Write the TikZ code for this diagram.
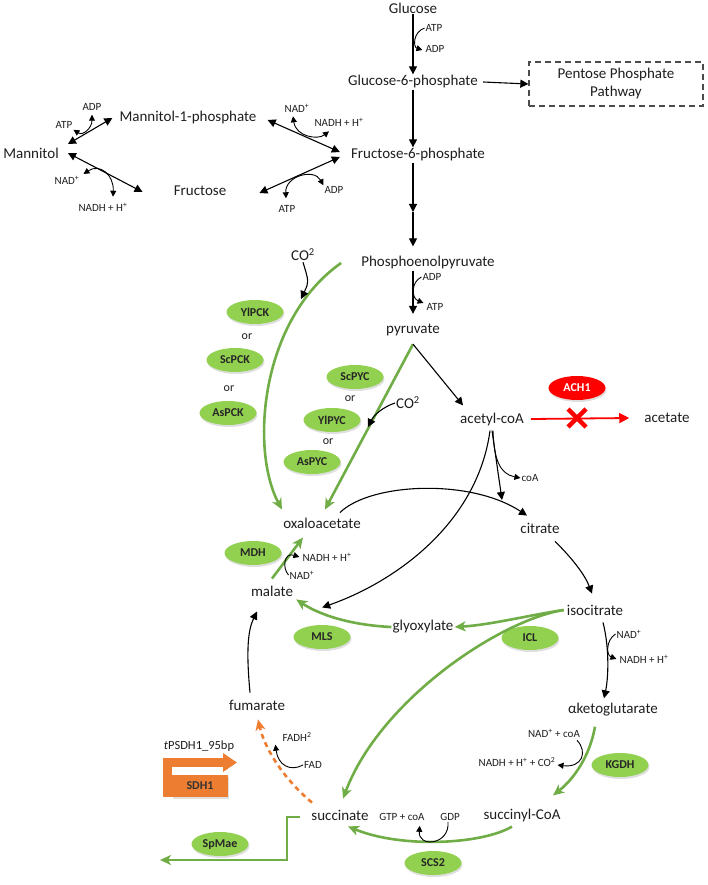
\documentclass[tikz,border=0pt]{standalone}
\usepackage{fontspec}
\setmainfont{Carlito}
\usepackage{tikz}
\usetikzlibrary{shapes.geometric, arrows.meta, shadows}
\definecolor{enzgreen}{RGB}{146,208,80}
\definecolor{pathgreen}{RGB}{112,173,71}
\definecolor{sdhorange}{RGB}{237,125,49}
\definecolor{metabgray}{RGB}{30,30,30}
\tikzstyle{metab} = [font=\fontsize{15}{17}\selectfont, text=metabgray, inner sep=1pt]
\tikzstyle{cof} = [font=\fontsize{11}{13}\selectfont, text=metabgray, inner sep=1pt]
\tikzstyle{orlabel} = [font=\fontsize{12}{14}\selectfont, text=metabgray, inner sep=1pt]
\tikzstyle{enzyme} = [ellipse, fill=enzgreen, minimum width=57pt, minimum height=24pt, inner sep=0pt, font=\bfseries\fontsize{12}{14}\selectfont, text=black!85, drop shadow={opacity=0.25, shadow xshift=1pt, shadow yshift=-2pt}]
\tikzstyle{arrow} = [line width=1.1pt, -{Triangle[length=8pt,width=8pt]}]
\tikzstyle{biarrow} = [line width=1.1pt, {Triangle[length=8pt,width=8pt]}-{Triangle[length=8pt,width=8pt]}]
\tikzstyle{cofarrow} = [line width=0.9pt, -{Triangle[length=6pt,width=6pt]}]
\tikzstyle{bicofarrow} = [line width=0.9pt, {Triangle[length=6pt,width=6pt]}-{Triangle[length=6pt,width=6pt]}]
\tikzstyle{greenarrow} = [pathgreen, line width=2.6pt, -{Stealth[length=11pt,width=10pt,inset=3pt]}]
\newcommand{\upplus}{\textsuperscript{+}}

\begin{document}
\begin{tikzpicture}[x=1pt, y=-1pt]
	\useasboundingbox (0,0) rectangle (708,885);
	\coordinate (glucose) at (413,8);
	\coordinate (g6p) at (413,82);
	\coordinate (ppp) at (616,84);
	\coordinate (f6p) at (418,155);
	\coordinate (mannitol) at (31,153);
	\coordinate (m1p) at (188,118);
	\coordinate (fructose) at (200,191);
	\coordinate (pep) at (428,263);
	\coordinate (pyruvate) at (413,330);
	\coordinate (acetylcoa) at (492,419);
	\coordinate (acetate) at (667,418);
	\coordinate (oaa) at (322,523);
	\coordinate (citrate) at (540,528);
	\coordinate (malate) at (272,591);
	\coordinate (glyoxylate) at (423,627);
	\coordinate (isocitrate) at (595,610);
	\coordinate (akg) at (613,710);
	\coordinate (succinylcoa) at (522,815);
	\coordinate (succinate) at (340,815);
	\coordinate (fumarate) at (257,705);
	% Metabolites
	\begin{scope}[every node/.style={metab}]
	\node[name=glucose] at (glucose) {Glucose};
	\node[name=g6p] at (g6p) {Glucose-6-phosphate};
	\node[name=f6p] at (f6p) {Fructose-6-phosphate};
	\node[name=mannitol] at (mannitol) {Mannitol};
	\node[name=m1p] at (m1p) {Mannitol-1-phosphate};
	\node[name=fructose] at (fructose) {Fructose};
	\node[name=pep] at (pep) {Phosphoenolpyruvate};
	\node[name=pyruvate] at (pyruvate) {pyruvate};
	\node[name=acetylcoa] at (acetylcoa) {acetyl-coA};
	\node[name=acetate] at (acetate) {acetate};
	\node[name=oaa] at (oaa) {oxaloacetate};
	\node[name=citrate] at (citrate) {citrate};
	\node[name=malate] at (malate) {malate};
	\node[name=glyoxylate] at (glyoxylate) {glyoxylate};
	\node[name=isocitrate] at (isocitrate) {isocitrate};
	\node[name=akg] at (akg) {αketoglutarate};
	\node[name=succinylcoa] at (succinylcoa) {succinyl-CoA};
	\node[name=succinate] at (succinate) {succinate};
	\node[name=fumarate] at (fumarate) {fumarate};
	\node[name=co2a] at (303,255) {CO\textsuperscript{2}};
	\node[name=co2b] at (408,403) {CO\textsuperscript{2}};
	\end{scope}
	% Pentose phosphate pathway
	\node[draw=black!70, dash pattern=on 6pt off 4pt, line width=1.3pt, minimum width=174pt, minimum height=44pt, align=center, font=\fontsize{15}{18}\selectfont, text=metabgray] (ppp) at (ppp) {Pentose Phosphate\\Pathway};
	% Cofactors
	\begin{scope}[every node/.style={cof}]
	\node (atp1) at (434,28) {ATP};
	\node (adp1) at (435,49) {ADP};
	\node (adpm) at (92,107) {ADP};
	\node (atpm) at (64,125) {ATP};
	\node (nadm) at (297,108) {NAD\upplus};
	\node (nadhm) at (339,122) {NADH + H\upplus};
	\node (nadf) at (67,180) {NAD\upplus};
	\node (nadhf) at (103,207) {NADH + H\upplus};
	\node (atpf) at (287,209) {ATP};
	\node (adpf) at (334,190) {ADP};
	\node (adpp) at (432,277) {ADP};
	\node (atpp) at (435,307) {ATP};
	\node (coa) at (530,478) {coA};
	\node (nadi) at (629,634) {NAD\upplus};
	\node (nadhi) at (644,659) {NADH + H\upplus};
	\node (nadcoa) at (554,733) {NAD\upplus{} + coA};
	\node (nadhco2) at (517,762) {NADH + H\upplus{} + CO\textsuperscript{2}};
	\node (gtpcoa) at (402,817) {GTP + coA};
	\node (gdp) at (450,817) {GDP};
	\node (nado) at (302,575) {NAD\upplus};
	\node (nadho) at (327,557) {NADH + H\upplus};
	\node (fadh) at (297,737) {FADH\textsuperscript{2}};
	\node (fad) at (313,765) {FAD};
	\end{scope}
	% Enzymes
	\begin{scope}[every node/.style={enzyme}]
	\node (ylpck) at (255,312) {YlPCK};
	\node (scpck) at (235,360) {ScPCK};
	\node (aspck) at (228,413) {AsPCK};
	\node (scpyc) at (355,377) {ScPYC};
	\node (ylpyc) at (332,420) {YlPYC};
	\node (aspyc) at (312,462) {AsPYC};
	\node (mdh) at (253,553) {MDH};
	\node (mls) at (322,637) {MLS};
	\node (icl) at (530,638) {ICL};
	\node (kgdh) at (620,765) {KGDH};
	\node (scs2) at (433,863) {SCS2};
	\node (spmae) at (220,844) {SpMae};
	\node[fill=red, text=white] (ach1) at (577,388) {ACH1};
	\end{scope}
	\begin{scope}[every node/.style={orlabel}]
	\node (or1) at (247,337) {or};
	\node (or2) at (229,389) {or};
	\node (or3) at (350,399) {or};
	\node (or4) at (328,442) {or};
	\end{scope}
	% SDH1 promoter
	\coordinate (sdhbase) at (167.5,797);
	\coordinate (sdhtip) at (237,762.5);
	\draw[sdhorange, line width=9pt, -{Triangle[length=14pt,width=18pt]}] (sdhbase) |- (sdhtip);
	\node[fill=sdhorange, minimum width=56pt, minimum height=22pt, inner sep=0pt, font=\bfseries\fontsize{12}{14}\selectfont, text=black!80, drop shadow={opacity=0.25, shadow xshift=1pt, shadow yshift=-2pt}] (sdh1) at (200,786) {SDH1};
	\node[font=\fontsize{12.5}{14}\selectfont, text=metabgray, inner sep=1pt] (promoter) at (199,746) {\textit{t}PSDH1\_95bp};
	% Glycolysis
	\coordinate (glyc) at (413,212);
	\draw [arrow] (glucose.south) -- (glucose.south |- g6p.north);
	\draw [cofarrow] (atp1.west) .. controls (413,32) and (413,47) .. ([shift={(-2,1)}]adp1.west);
	\draw [arrow] ([xshift=4pt]g6p.east) -- (ppp.west);
	\draw [arrow] (g6p.south) -- (g6p.south |- f6p.north);
	\draw [arrow] (g6p.south |- f6p.south) -- (glyc);
	\draw [arrow] (glyc) -- ([shift={(0,-9)}]glyc |- pep.north);
	% Mannitol
	\draw [biarrow] ([shift={(8,-9)}]mannitol.east) -- ([shift={(-6,0)}]m1p.west);
	\draw [biarrow] ([shift={(8,0)}]mannitol.east) -- ([shift={(-30,1)}]fructose.west);
	\draw [biarrow] ([shift={(10,2)}]m1p.east) -- ([shift={(-10,-3)}]f6p.west);
	\draw [biarrow] ([shift={(32,2)}]fructose.east) -- ([shift={(-10,2)}]f6p.west);
	\draw [bicofarrow] (atpm.south east) .. controls (83,136) and (92,128) .. ([shift={(0,3)}]adpm.south);
	\draw [bicofarrow] ([shift={(-4,3)}]nadm.south) .. controls (296,137) and (318,140) .. ([shift={(-10,4)}]nadhm.south);
	\draw [bicofarrow] ([shift={(3,-6)}]nadf.east) .. controls (100,163) and (114,175) .. ([shift={(10,-5)}]nadhf.north);
	\draw [bicofarrow] ([shift={(-1,-6)}]atpf.north) .. controls (285,176) and (314,168) .. (adpf.north west);
	% PEP and pyruvate
	\coordinate (pckco2) at (301,299);
	\coordinate (pycco2) at (368,427);
	\draw [arrow] (pyruvate.north |- pep.south) -- ([shift={(0,-9)}]pyruvate.north);
	\draw [cofarrow] (adpp.west) .. controls (411,282) and (411,298) .. ([shift={(-2,-4)}]atpp.west);
	\draw [greenarrow] ([shift={(-19,0)}]pep.west) .. controls (260,320) and (250,450) .. ([shift={(-40,-7)}]oaa.north);
	\draw [arrow] (co2a.south) .. controls (309,282) .. (pckco2);
	\draw [greenarrow] ([shift={(0,7)}]pyruvate.south) -- ([shift={(3,-7)}]oaa.north);
	\draw [arrow] ([shift={(0,7)}]pyruvate.south) -- ([shift={(4,-6)}]acetylcoa.north west);
	\draw [arrow] (co2b.west) .. controls (383,407) and (374,415) .. (pycco2);
	% Acetate
	\coordinate (block) at (577,418);
	\draw [red, line width=1.8pt, -{Triangle[length=10pt,width=10pt]}] ([shift={(6,0)}]acetylcoa.east) -- ([shift={(-14,0)}]acetate.west);
	\draw [red, line width=4.5pt] ([shift={(-9,-9)}]block) -- ([shift={(9,9)}]block) ([shift={(-9,9)}]block) -- ([shift={(9,-9)}]block);
	% TCA cycle
	\coordinate (citin) at (502,500);
	\draw [cofarrow] ([shift={(1,4)}]acetylcoa.south) .. controls (494,460) and (500,474) .. (coa.west);
	\draw [arrow] ([shift={(0,4)}]acetylcoa.south) -- (citin);
	\draw [arrow] ([shift={(-2,4)}]acetylcoa.south) .. controls (478,520) and (400,580) .. ([shift={(28,10)}]malate.south east);
	\draw [arrow] ([shift={(18,-4)}]oaa.north) .. controls (370,483) and (470,478) .. ([shift={(-13,-6)}]citrate.north);
	\draw [arrow] ([shift={(15,7)}]citrate.south) .. controls (572,558) and (585,575) .. ([shift={(-3,-10)}]isocitrate.north);
	\draw [arrow] ([shift={(8,6)}]isocitrate.south) .. controls (610,650) and (608,680) .. ([shift={(-9,-4)}]akg.north);
	\draw [cofarrow] (nadi.west) .. controls (606,640) and (606,655) .. ([shift={(-2,0)}]nadhi.west);
	\draw [greenarrow] ([shift={(-18,9)}]akg.south) .. controls (590,755) and (575,778) .. ([shift={(31,-12)}]succinylcoa.north);
	\draw [cofarrow] ([shift={(-4,2)}]nadcoa.south east) .. controls (588,752) and (582,768) .. ([shift={(1,3)}]nadhco2.east);
	\draw [greenarrow] ([shift={(-10,4)}]succinylcoa.south) .. controls (480,845) and (400,848) .. ([shift={(8,5)}]succinate.south);
	\draw [cofarrow] ([shift={(-2,0)}]gdp.south) .. controls (450,845) and (418,848) .. ([shift={(-6,4)}]gtpcoa.south east);
	\coordinate (spbend) at (287,860);
	\coordinate (spout) at (160,860);
	\draw [greenarrow] ([shift={(-10,2)}]succinate.west) -| (spbend) -- (spout);
	\draw [greenarrow] ([shift={(-2,0)}]isocitrate.west) .. controls (530,615) and (490,625) .. (glyoxylate.east);
	\draw [greenarrow] ([shift={(-2,0)}]isocitrate.west) .. controls (500,620) and (380,700) .. ([shift={(3,-10)}]succinate.north);
	\draw [greenarrow] (glyoxylate.west) .. controls (350,625) and (320,615) .. ([shift={(2,2)}]malate.south east);
	\draw [greenarrow] ([shift={(0,-6)}]malate.north) -- ([shift={(-19,8)}]oaa.south);
	\draw [cofarrow] (nado.west) .. controls (282,568) and (284,552) .. ([shift={(-2,0)}]nadho.west);
	\draw [arrow] ([shift={(-7,-6)}]fumarate.north) .. controls (246,650) and (248,630) .. ([shift={(-15,14)}]malate.south);
	\draw [sdhorange, line width=2.6pt, dash pattern=on 5pt off 4pt, -{Stealth[length=11pt,width=10pt,inset=3pt]}] ([shift={(-28,-6)}]succinate.north) .. controls (285,780) and (265,750) .. ([shift={(1,8)}]fumarate.south);
	\draw [cofarrow] (fad.west) .. controls (290,772) and (278,765) .. ([shift={(-6,2)}]fadh.south west);
\end{tikzpicture}
\end{document}
